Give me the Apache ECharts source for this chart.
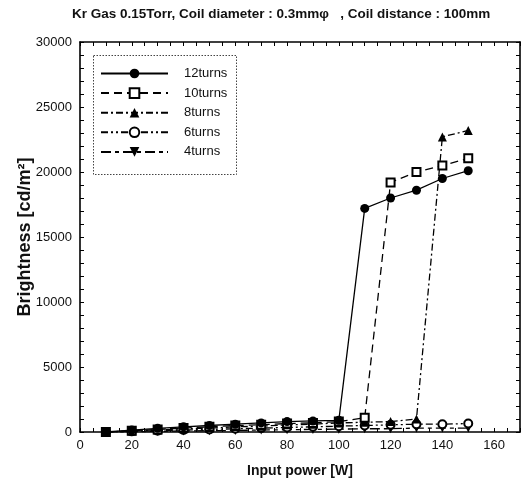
<!DOCTYPE html>
<html>
<head>
<meta charset="utf-8">
<script src="https://cdn.jsdelivr.net/npm/echarts@6/dist/echarts.min.js"></script>
<style>html,body{margin:0;padding:0;background:#fff;}#c{width:527px;height:492px;}</style>
</head>
<body>
<div id="c"></div>
<script>
const power = [10, 20, 30, 40, 50, 60, 70, 80, 90, 100, 110, 120, 130, 140, 150];
const turns12 = [0, 150, 280, 400, 500, 600, 700, 800, 850, 900, 17200, 18000, 18600, 19500, 20100];
const turns10 = [0, 100, 200, 300, 400, 500, 550, 650, 700, 800, 1100, 19200, 20000, 20500, 21050];
const turns8  = [0, 80, 150, 250, 300, 400, 450, 550, 600, 700, 750, 800, 1000, 22700, 23200];
const turns6  = [0, 50, 100, 150, 200, 250, 300, 350, 400, 450, 500, 550, 600, 600, 650];
const turns4  = [0, 20, 50, 80, 100, 120, 150, 180, 200, 220, 250, 250, 300, 300, 300];
const seriesNames = ['12turns', '10turns', '8turns', '6turns', '4turns'];
const xTicks = [0, 20, 40, 60, 80, 100, 120, 140, 160];
const yTicks = [0, 5000, 10000, 15000, 20000, 25000, 30000];

const pairs = arr => power.map((p, i) => [p, arr[i]]);
const font = '"Liberation Sans", Arial, sans-serif';

const chart = echarts.init(document.getElementById('c'));

function mkSeries(name, data, symbol, size, dash, fill, bw) {
  return {
    name, type: 'line', data: pairs(data),
    symbol, symbolSize: size, showSymbol: true,
    lineStyle: { color: '#000', width: 1.3, type: dash },
    itemStyle: { color: fill, borderColor: '#000', borderWidth: bw },
    emphasis: { disabled: true }, animation: false
  };
}

const axisCommon = {
  axisLine: { show: true, onZero: false, lineStyle: { color: '#000', width: 1.6 } },
  axisTick: { show: true, inside: true, length: 4, lineStyle: { color: '#000', width: 1 } },
  splitLine: { show: false }
};

chart.setOption({
  backgroundColor: '#fff',
  animation: false,
  title: {
    text: 'Kr Gas 0.15Torr, Coil diameter : 0.3mmφ   , Coil distance : 100mm',
    left: 72, top: 7, padding: 0,
    textStyle: { fontFamily: font, fontSize: 13.5, fontWeight: 'bold', color: '#111' }
  },
  grid: { left: 80, right: 7, top: 42, bottom: 60 },
  legend: {
    orient: 'vertical', left: 100, top: 67, padding: 0,
    itemWidth: 67, itemHeight: 12, itemGap: 6.6,
    data: seriesNames,
    textStyle: { fontFamily: font, fontSize: 13, color: '#111', padding: [0, 0, 0, 11] }
  },
  graphic: [{
    type: 'rect', left: 91, top: 53, silent: true,
    shape: { width: 143, height: 119 },
    style: { fill: 'none', stroke: '#444', lineWidth: 1, lineDash: [1.5, 1.5] },
    z: 10
  }],
  xAxis: [
    Object.assign({}, axisCommon, {
      type: 'value', min: 0, max: 170, interval: 5, position: 'bottom',
      name: 'Input power [W]', nameLocation: 'middle', nameGap: 32,
      nameTextStyle: { fontFamily: font, fontSize: 14, fontWeight: 'bold', color: '#111' },
      axisLabel: {
        margin: 7, fontFamily: font, fontSize: 13, color: '#111',
        formatter: v => xTicks.indexOf(v) >= 0 ? String(v) : ''
      }
    }),
    Object.assign({}, axisCommon, {
      type: 'value', min: 0, max: 170, interval: 5, position: 'top',
      axisLabel: { show: false }
    })
  ],
  yAxis: [
    Object.assign({}, axisCommon, {
      type: 'value', min: 0, max: 30000, interval: 1000, position: 'left',
      name: 'Brightness [cd/m²]', nameLocation: 'middle', nameGap: 46, nameRotate: 90,
      nameMoveOverlap: false,
      nameTextStyle: { fontFamily: font, fontSize: 18, fontWeight: 'bold', color: '#111' },
      axisLabel: {
        margin: 8, fontFamily: font, fontSize: 13, color: '#111',
        formatter: v => yTicks.indexOf(v) >= 0 ? String(v) : ''
      }
    }),
    Object.assign({}, axisCommon, {
      type: 'value', min: 0, max: 30000, interval: 1000, position: 'right',
      axisLabel: { show: false }
    })
  ],
  series: [
    mkSeries('4turns', turns4, 'path://M0,0 L10,0 L5,9 Z', 9, [10, 4, 4, 4], '#000', 0),
    mkSeries('6turns', turns6, 'circle', 8, [7, 3, 2, 3, 2, 3], '#fff', 2),
    mkSeries('8turns', turns8, 'triangle', 9, [7, 3, 2, 3], '#000', 0),
    mkSeries('10turns', turns10, 'rect', 8, [8, 5], '#fff', 2),
    mkSeries('12turns', turns12, 'circle', 9, 'solid', '#000', 0)
  ]
});
</script>
</body>
</html>
